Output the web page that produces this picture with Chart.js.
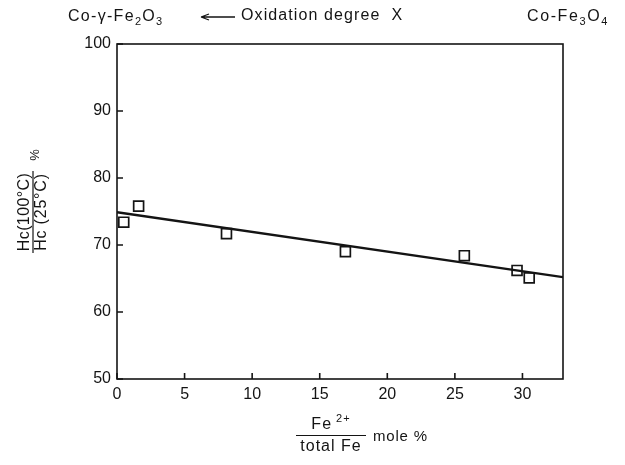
<!DOCTYPE html>
<html lang="en">
<head>
  <meta charset="UTF-8" />
  <title>Hc(100°C)/Hc(25°C) vs Fe2+ content</title>
  <script src="https://cdn.jsdelivr.net/npm/chart.js"></script>
  <style>
    html, body { margin: 0; padding: 0; background: #fff; }
    #wrap { width: 625px; height: 465px; position: relative; }
  </style>
</head>
<body>
  <div id="wrap"><canvas id="hcChart" width="625" height="465"></canvas></div>

  <script>
    // data
    const fe2Content = [0.5, 1.6, 8.1, 16.9, 25.7, 29.6, 30.5];
    const hcRatio    = [73.4, 75.8, 71.7, 69.0, 68.4, 66.2, 65.1];
    const fitX = [0, 33];
    const fitY = [74.9, 65.2];
    const xTicks = [0, 5, 10, 15, 20, 25, 30];
    const yTicks = [50, 60, 70, 80, 90, 100];

    const INK = '#141414';
    const FAMILY = "'Liberation Sans', Arial, sans-serif";
    Chart.defaults.font.family = FAMILY;
    Chart.defaults.font.size = 16;
    Chart.defaults.color = INK;

    // draws text pieces with sub/superscripts; spacing = letter spacing in px
    function drawRich(ctx, parts, x, y, align, size, spacing) {
      ctx.letterSpacing = (spacing || 0) + 'px';
      const fontFor = k => (k ? Math.round(size * 0.66) : size) + 'px ' + FAMILY;
      const widths = parts.map(([t, k]) => { ctx.font = fontFor(k); return ctx.measureText(t).width; });
      const total = widths.reduce((a, b) => a + b, 0);
      let cx = align === 'center' ? x - total / 2 : align === 'right' ? x - total : x;
      ctx.textAlign = 'left';
      ctx.textBaseline = 'middle';
      parts.forEach(([t, k], i) => {
        ctx.font = fontFor(k);
        const dy = k === 'sub' ? size * 0.3 : k === 'sup' ? -size * 0.38 : 0;
        ctx.fillText(t, cx, y + dy);
        cx += widths[i];
      });
      ctx.letterSpacing = '0px';
    }

    const framePlugin = {
      id: 'frame',
      beforeDatasetsDraw(chart) {
        const { ctx, chartArea: a, scales } = chart;
        ctx.save();
        ctx.strokeStyle = INK;
        ctx.lineWidth = 1.6;
        ctx.strokeRect(a.left, a.top, a.right - a.left, a.bottom - a.top);
        ctx.beginPath();
        scales.y.ticks.forEach(t => {
          const y = scales.y.getPixelForValue(t.value);
          ctx.moveTo(a.left, y); ctx.lineTo(a.left + 6, y);
        });
        scales.x.ticks.forEach(t => {
          const x = scales.x.getPixelForValue(t.value);
          ctx.moveTo(x, a.bottom); ctx.lineTo(x, a.bottom - 6);
        });
        ctx.stroke();
        ctx.restore();
      }
    };

    const labelPlugin = {
      id: 'labels',
      afterDraw(chart) {
        const ctx = chart.ctx;
        ctx.save();
        ctx.fillStyle = INK;
        ctx.strokeStyle = INK;

        // top row
        drawRich(ctx, [['Co-γ-Fe', ''], ['2', 'sub'], ['O', ''], ['3', 'sub']], 68, 17, 'left', 16, 1.3);
        drawRich(ctx, [['Oxidation degree  X', '']], 241, 16, 'left', 16, 1.1);
        drawRich(ctx, [['Co-Fe', ''], ['3', 'sub'], ['O', ''], ['4', 'sub']], 527, 17, 'left', 16, 1.6);
        ctx.lineWidth = 1.3;
        ctx.beginPath();
        ctx.moveTo(201, 17); ctx.lineTo(235, 17);
        ctx.moveTo(201, 17); ctx.lineTo(209, 14);
        ctx.moveTo(201, 17); ctx.lineTo(209, 20);
        ctx.stroke();

        // y title (rotated fraction)
        ctx.save();
        ctx.translate(33, 212);
        ctx.rotate(-Math.PI / 2);
        drawRich(ctx, [['Hc(100°C)', '']], 0, -8, 'center', 16, 0.4);
        drawRich(ctx, [['Hc (25°C)', '']], 0, 9, 'center', 16, 0.8);
        ctx.lineWidth = 1.2;
        ctx.beginPath();
        ctx.moveTo(-41, 0); ctx.lineTo(41, 0);
        ctx.stroke();
        drawRich(ctx, [['%', '']], 57, 2, 'center', 13);
        ctx.restore();

        // x title (fraction)
        drawRich(ctx, [['Fe', ''], [' 2+', 'sup']], 331, 425, 'center', 16, 1);
        drawRich(ctx, [['total Fe', '']], 331, 447, 'center', 16, 1);
        ctx.lineWidth = 1.2;
        ctx.beginPath();
        ctx.moveTo(296, 435.5); ctx.lineTo(366, 435.5);
        ctx.stroke();
        drawRich(ctx, [['mole %', '']], 373, 437, 'left', 15, 0.8);

        ctx.restore();
      }
    };

    new Chart(document.getElementById('hcChart'), {
      type: 'scatter',
      data: {
        datasets: [
          {
            label: 'measured',
            data: fe2Content.map((x, i) => ({ x, y: hcRatio[i] })),
            pointStyle: 'rect',
            pointRadius: 7,
            borderWidth: 1.7,
            borderColor: INK,
            backgroundColor: 'rgba(0,0,0,0)'
          },
          {
            label: 'fit',
            data: fitX.map((x, i) => ({ x, y: fitY[i] })),
            showLine: true,
            pointRadius: 0,
            borderWidth: 2.4,
            borderColor: INK
          }
        ]
      },
      options: {
        responsive: false,
        animation: false,
        devicePixelRatio: 1,
        layout: { padding: { top: 44, right: 62, left: 0, bottom: 0 } },
        plugins: {
          legend: { display: false },
          tooltip: { enabled: false }
        },
        scales: {
          x: {
            min: 0, max: 33,
            afterBuildTicks: s => { s.ticks = xTicks.map(v => ({ value: v })); },
            afterFit: s => { s.height = 86; },
            grid: { display: false, drawTicks: false },
            border: { display: false },
            ticks: { padding: 6, color: INK, font: { size: 16 }, maxRotation: 0 }
          },
          y: {
            min: 50, max: 100,
            afterBuildTicks: s => { s.ticks = yTicks.map(v => ({ value: v })); },
            afterFit: s => { s.width = 117; },
            grid: { display: false, drawTicks: false },
            border: { display: false },
            ticks: { padding: 6, color: INK, font: { size: 16 } }
          }
        }
      },
      plugins: [framePlugin, labelPlugin]
    });
  </script>
</body>
</html>
